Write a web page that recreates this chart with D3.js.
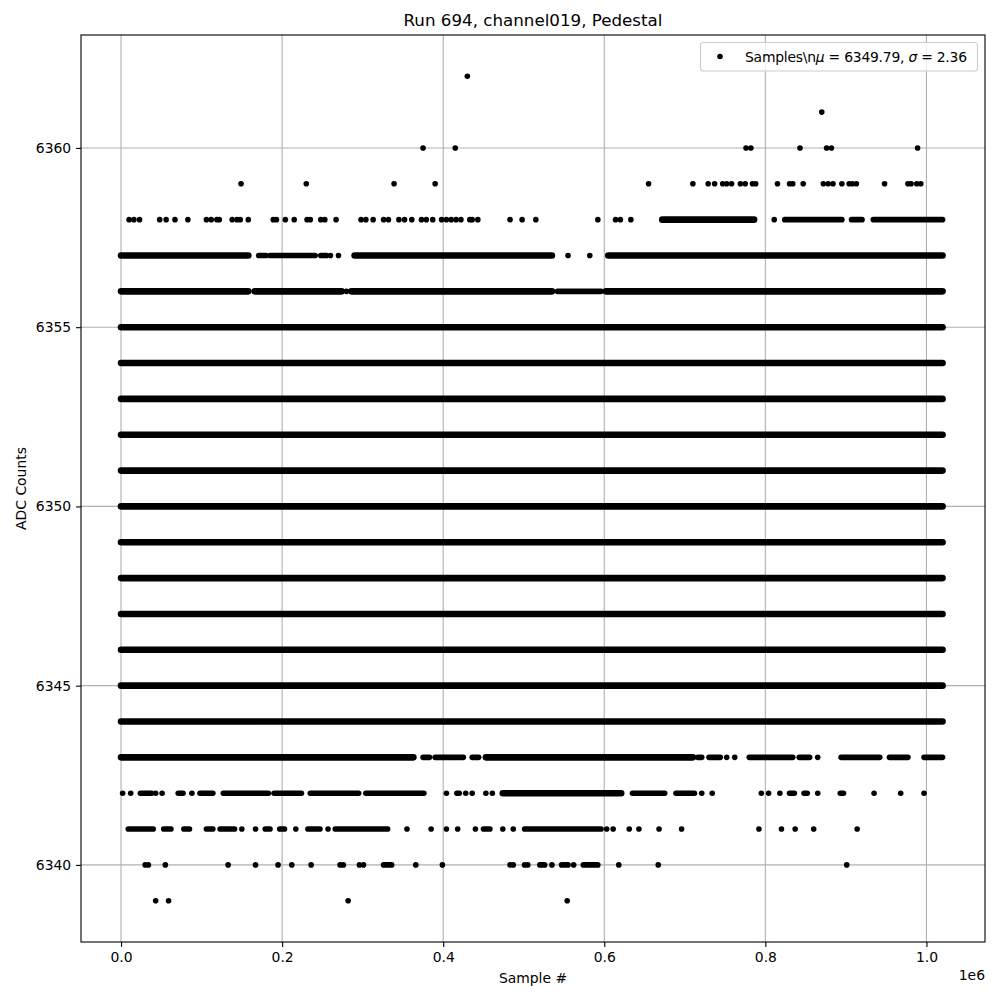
<!DOCTYPE html>
<html>
<head>
<meta charset="utf-8">
<script src="https://cdn.jsdelivr.net/npm/d3@7"></script>
<style>
  body { margin: 0; background: #fff; }
  text { font-family: "DejaVu Sans", sans-serif; }
</style>
</head>
<body>
<svg id="chart" width="1000" height="1000"></svg>
<script>
// Sample positions are in thousands of samples. [a, b] = run of dense samples, [a] = single sample
var r6362 = [[430]];
var r6361 = [[870]];
var r6360 = [[375],[415],[776],[782],[843],[876],[882],[989]];
var r6359 = [[149],[230],[339],[390],[655],[710],[729],[737],[747],[752],[758],[769],[775],[784],[788],
             [815],[830],[834],[847],[872],[878],[884],[895],[904],[908],[913],[948],[977],[981],[988],[993]];
var r6358 = [[10],[16],[23],[48],[56],[67],[83],[106],[112],[119],[122],[138],[144],[148],[158],[189],[193],
             [204],[215],[231],[235],[248],[253],[267],[298],[304],[313],[326],[332],[345],[352],[361],[373],
             [379],[387],[398],[404],[410],[416],[422],[433],[436],[443],[483],[498],[515],[592],[614],[620],
             [633],[672,786],[811],[824,895],[907,920],[934,1020]];
var r6357 = [[0,158],[171,180],[185,241],[248,255],[260],[270],[290,535],[555],[582],[605,1020]];
var r6356 = [[0,158],[166,274],[280],[286,535],[542,596],[602,1020]];
var rFull = [[0,1020]];
var r6343 = [[0,363],[375,383],[390,425],[436,444],[453,710],[716,721],[730,744],[752],[762],[780,834],
             [842,855],[865],[894,942],[954,977],[997,1020]];
var r6342 = [[2],[12],[24,38],[43],[51],[71,77],[88],[98,114],[127,183],[190,224],[235,295],[304,376],[404],
             [417,420],[428],[436],[453],[461],[474,621],[635,675],[689,712],[721],[734],[795],[804],[818],
             [830,836],[848,852],[865],[893,897],[935],[968],[997]];
var r6341 = [[9,40],[53,62],[78,85],[106,114],[123,141],[150],[167],[179,185],[197,203],[217],[232,247],[257],
             [266,331],[355],[385],[404],[418],[440],[450,458],[474],[487],[501,596],[603],[611],[631],[643],
             [668],[696],[792],[820],[837],[860],[914]];
var r6340 = [[30],[34],[55],[133],[167],[195],[212],[236],[272],[276],[296],[301],[326,336],[366],[399],[483],
             [487],[501],[505],[520,526],[535],[547,555],[562],[574,592],[618],[667],[901]];
var r6339 = [[43],[59],[282],[554]];

var levels = [6362,6361,6360,6359,6358,6357,6356,6355,6354,6353,6352,6351,6350,6349,6348,6347,6346,6345,6344,6343,6342,6341,6340,6339];
var levelRuns = [r6362,r6361,r6360,r6359,r6358,r6357,r6356,rFull,rFull,rFull,rFull,rFull,rFull,rFull,rFull,rFull,rFull,rFull,rFull,r6343,r6342,r6341,r6340,r6339];

var xTicks = [0, 200, 400, 600, 800, 1000];
var yTicks = [6340, 6345, 6350, 6355, 6360];
var legendLabel = ["Samples\\n", "μ", " = 6349.79, ", "σ", " = 2.36"];

var axL = 81, axR = 985, axT = 35, axB = 942;
var dotR = 2.8;

var svg = d3.select("#chart");

var x = d3.scaleLinear().domain([-49.7, 1072.7]).range([axL, axR]);
var y = d3.scaleLinear().domain([6337.85, 6363.15]).range([axB, axT]);

// grid, below the points
var grid = svg.append("g");
grid.selectAll(".gx").data(xTicks).enter().append("line")
    .attr("x1", d => x(d)).attr("x2", d => x(d))
    .attr("y1", axT).attr("y2", axB)
    .attr("stroke", "#b0b0b0").attr("stroke-width", 1.1);
grid.selectAll(".gy").data(yTicks).enter().append("line")
    .attr("x1", axL).attr("x2", axR)
    .attr("y1", d => y(d)).attr("y2", d => y(d))
    .attr("stroke", "#b0b0b0").attr("stroke-width", 1.1);

// flatten runs into marks
var marks = [];
levels.forEach(function(lv, i) {
    levelRuns[i].forEach(function(r) {
        marks.push({ level: lv, a: r[0], b: r.length > 1 ? r[1] : r[0] });
    });
});

// long dense runs look a little thicker than a single dot (overlapping antialiasing)
var plot = svg.append("g");
plot.selectAll("line.run").data(marks.filter(d => d.b > d.a)).enter().append("line")
    .attr("class", "run")
    .attr("x1", d => x(d.a)).attr("x2", d => x(d.b))
    .attr("y1", d => y(d.level)).attr("y2", d => y(d.level))
    .attr("stroke", "#000")
    .attr("stroke-width", d => (d.b - d.a) > 100 ? 6.6 : dotR * 2)
    .attr("stroke-linecap", "round");
plot.selectAll("circle.pt").data(marks.filter(d => d.b == d.a)).enter().append("circle")
    .attr("class", "pt")
    .attr("cx", d => x(d.a)).attr("cy", d => y(d.level))
    .attr("r", dotR).attr("fill", "#000");

// axes
var xAxis = svg.append("g")
    .attr("transform", "translate(0," + axB + ")")
    .call(d3.axisBottom(x).tickValues(xTicks).tickSize(4.9).tickPadding(4.9).tickSizeOuter(0)
        .tickFormat(d => (d / 1000).toFixed(1)));
var yAxis = svg.append("g")
    .attr("transform", "translate(" + axL + ",0)")
    .call(d3.axisLeft(y).tickValues(yTicks).tickSize(4.9).tickPadding(4.9).tickSizeOuter(0)
        .tickFormat(d3.format("d")));
[xAxis, yAxis].forEach(function(g) {
    g.select(".domain").remove();
    g.selectAll(".tick line").attr("stroke", "#000").attr("stroke-width", 1.1);
    g.selectAll(".tick text").attr("fill", "#000")
        .style("font-family", '"DejaVu Sans", sans-serif').style("font-size", "13.9px");
});

// frame
svg.append("rect")
    .attr("x", axL).attr("y", axT)
    .attr("width", axR - axL).attr("height", axB - axT)
    .attr("fill", "none").attr("stroke", "#000").attr("stroke-width", 1.1);

// texts
svg.append("text").attr("x", (axL + axR) / 2).attr("y", 26)
    .attr("text-anchor", "middle").style("font-size", "16.7px")
    .text("Run 694, channel019, Pedestal");
svg.append("text").attr("x", (axL + axR) / 2).attr("y", 983)
    .attr("text-anchor", "middle").style("font-size", "13.9px")
    .text("Sample #");
svg.append("text").attr("transform", "translate(25.5," + (axT + axB) / 2 + ") rotate(-90)")
    .attr("text-anchor", "middle").style("font-size", "13.9px")
    .text("ADC Counts");
svg.append("text").attr("x", axR).attr("y", 980)
    .attr("text-anchor", "end").style("font-size", "13.9px")
    .text("1e6");

// legend
var lg = svg.append("g");
lg.append("rect")
    .attr("x", 700.5).attr("y", 42.5).attr("width", 277).attr("height", 28.5)
    .attr("rx", 2.8).attr("fill", "#fff").attr("fill-opacity", 0.8)
    .attr("stroke", "#cccccc").attr("stroke-width", 1.1);
lg.append("circle").attr("cx", 720).attr("cy", 56.5).attr("r", dotR).attr("fill", "#000");
var lt = lg.append("text").attr("x", 745).attr("y", 61.5).style("font-size", "13.9px")
    .attr("textLength", 222).attr("lengthAdjust", "spacing");
legendLabel.forEach(function(s, i) {
    lt.append("tspan").style("font-style", i % 2 == 1 ? "italic" : "normal").text(s);
});
</script>
</body>
</html>
